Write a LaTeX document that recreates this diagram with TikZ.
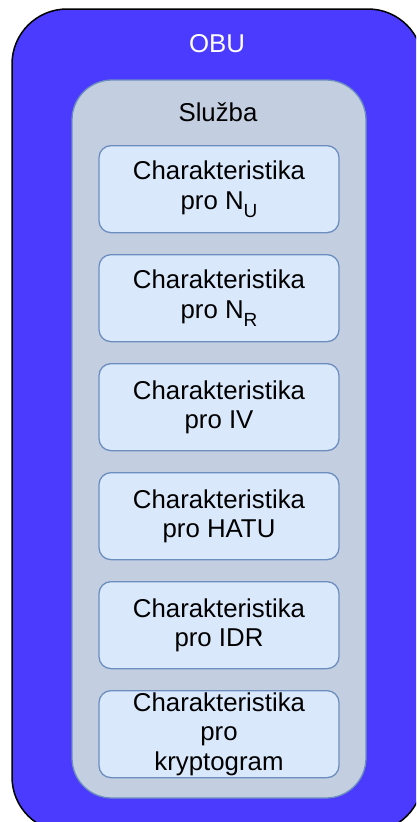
\documentclass[tikz,border=0pt]{standalone}
\usepackage{fontspec}
\setmainfont{Liberation Sans}
\definecolor{obublue}{HTML}{4B3BFF}
\definecolor{svcfill}{HTML}{C3CFE1}
\definecolor{boxfill}{HTML}{DAE8FC}
\definecolor{boxline}{HTML}{6C8EBF}
\newcommand{\subU}[1]{\raisebox{-0.3em}{\fontsize{19}{19}\selectfont #1}}
\begin{document}
\begin{tikzpicture}[x=1pt,y=-1pt,
  txt/.style={font=\fontsize{25.8}{29.6}\selectfont, align=center, inner sep=0pt},
  charbox/.style={draw=boxline, fill=boxfill, line width=1.3pt, rounded corners=12pt,
    minimum width=240pt, minimum height=87pt, inner sep=0pt, anchor=north,
    font=\fontsize{25.8}{29.6}\selectfont, align=center}]
\useasboundingbox (0,0) rectangle (416,822);
\begin{scope}
\clip (0,0) rectangle (416,822);
\draw[fill=obublue, line width=1.5pt, rounded corners=55pt] (12,9) rectangle (423,832);
\end{scope}
\node[txt, text=white] (obu) at (217,44) {OBU};
\draw[draw=boxline, fill=svcfill, line width=1.3pt, rounded corners=40pt] (72,80) rectangle (366,798);
\node[txt] (sluzba) at (218,112) {Služba};
\node[charbox] (b1) at (219,145) {Charakteristika\\pro N\subU{U}};
\node[charbox] (b2) at (219,254) {Charakteristika\\pro N\subU{R}};
\node[charbox] (b3) at (219,363) {Charakteristika\\pro IV};
\node[charbox] (b4) at (219,472) {Charakteristika\\pro HATU};
\node[charbox] (b5) at (219,581) {Charakteristika\\pro IDR};
\node[charbox] (b6) at (219,690) {Charakteristika\\pro\\kryptogram};
\end{tikzpicture}
\end{document}
